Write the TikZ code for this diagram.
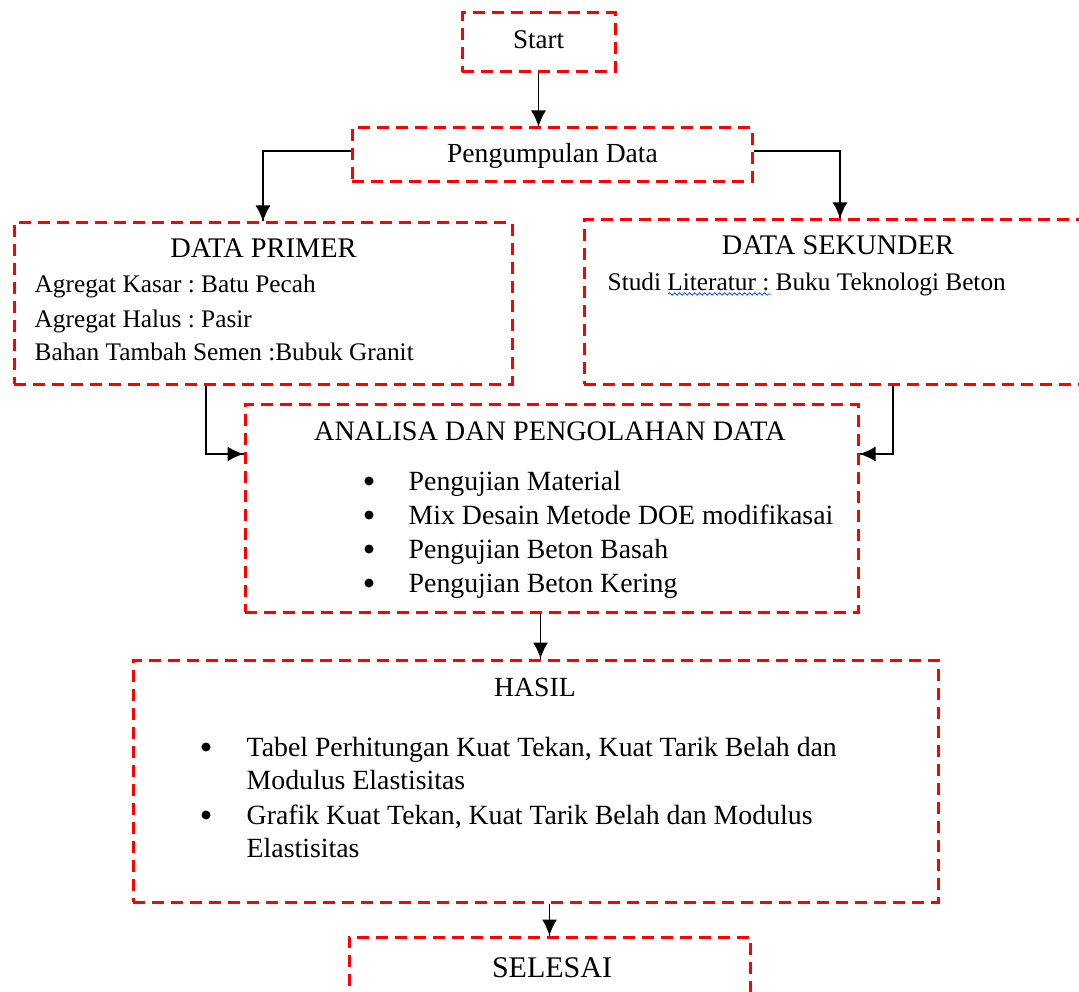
\documentclass[tikz,border=0pt]{standalone}
\usepackage{fontspec}
\setmainfont{Liberation Serif}
\usepackage{tikz}
\usetikzlibrary{arrows.meta}
\usetikzlibrary{decorations.markings}
\usetikzlibrary{decorations.pathmorphing}
\usetikzlibrary{positioning}
\frenchspacing
\tikzset{->/.style = {decoration={markings,
                                  mark=at position 1 with {\arrow{Latex[length=16pt, width=15pt]}}},
                      postaction={decorate}}}
\tikzset{box/.style = {draw=red, line width=3pt, dash pattern=on 12pt off 7pt, inner sep=0}}
\tikzset{dot/.style = {fill, circle, inner sep=0, minimum size=9}}
\tikzset{txt/.style = {font=\fontsize{#1}{34}\selectfont, inner sep=0, anchor=base west},
         txt/.default = 25.3}
\tikzset{ttl/.style = {font=\fontsize{#1}{34}\selectfont, inner sep=0, anchor=base},
         ttl/.default = 28.4}

\begin{document}
\begin{tikzpicture}[x=1pt, y=-1pt, line width=1.4pt]
      \useasboundingbox (0, 0) rectangle (1079, 992);
      % boxes
      \node [box, minimum width=153, minimum height=59] (start) at (538.5, 42.5) {};
      \node [box, minimum width=400, minimum height=54] (peng) at (552, 155) {};
      \node [box, minimum width=498, minimum height=161] (primer) at (263, 303.5) {};
      \node [box, minimum width=512, minimum height=164] (sekunder) at (840, 302) {};
      \node [box, minimum width=613, minimum height=208] (analisa) at (551.5, 508) {};
      \node [box, minimum width=805, minimum height=242] (hasil) at (535.5, 781) {};
      \node [box, minimum width=401, minimum height=73] (selesai) at (549.5, 973.5) {};
      % texts
      \node [ttl=27] (start-t) at (538.5, 49) {Start};
      \node [ttl=27.6] (peng-t) at (552.5, 163) {Pengumpulan Data};
      \node [ttl] (primer-t) at (263.5, 258) {DATA PRIMER};
      \node [txt] (primer-a) at (34, 293) {Agregat Kasar : Batu Pecah};
      \node [txt] (primer-b) at (34, 327) {Agregat Halus : Pasir};
      \node [txt] (primer-c) at (34, 360) {Bahan Tambah Semen :Bubuk Granit};
      \node [ttl] (sekunder-t) at (838, 255) {DATA SEKUNDER};
      \node [txt] (sekunder-a) at (607, 291) {Studi Literatur : Buku Teknologi Beton};
      \draw [blue!70!cyan, line width=0.8pt, decorate,
             decoration={snake, amplitude=1.2pt, segment length=5pt}] (668, 294) -- (771, 294);
      \node [ttl=28.2] (analisa-t) at (550, 440) {ANALISA DAN PENGOLAHAN DATA};
      \node [txt=27.8] (analisa-a) at (408, 490) {Pengujian Material};
      \node [txt=27.8] (analisa-b) at (408, 524) {Mix Desain Metode DOE modifikasai};
      \node [txt=27.8] (analisa-c) at (408, 558) {Pengujian Beton Basah};
      \node [txt=27.8] (analisa-d) at (408, 592) {Pengujian Beton Kering};
      \node [dot] (analisa-a-dot) at (369, 481) {};
      \node [dot] (analisa-b-dot) at (369, 515) {};
      \node [dot] (analisa-c-dot) at (369, 549) {};
      \node [dot] (analisa-d-dot) at (369, 583) {};
      \node [ttl=27.7] (hasil-t) at (535, 696) {HASIL};
      \node [txt=27.8] (hasil-a) at (246, 756) {Tabel Perhitungan Kuat Tekan, Kuat Tarik Belah dan};
      \node [txt=27.8] (hasil-b) at (246, 789) {Modulus Elastisitas};
      \node [txt=27.8] (hasil-c) at (246, 824) {Grafik Kuat Tekan, Kuat Tarik Belah dan Modulus};
      \node [txt=27.8] (hasil-d) at (246, 857) {Elastisitas};
      \node [dot] (hasil-a-dot) at (206, 747) {};
      \node [dot] (hasil-c-dot) at (206, 815) {};
      \node [ttl=30] (selesai-t) at (552, 977) {SELESAI};
      % connectors
      \draw [->] (start.south) -- (start.south |- peng.north);
      \draw [->] ([yshift=4pt]peng.west) -| (primer.north);
      \draw [->] ([yshift=4pt]peng.east) -| (sekunder.north);
      \draw [->] ([xshift=-57pt]primer.south) |- ([yshift=54pt]analisa.west);
      \draw [->] ([xshift=53pt]sekunder.south) |- ([yshift=54pt]analisa.east);
      \draw [->] ([xshift=-11pt]analisa.south) -- ([xshift=-11pt]analisa.south |- hasil.north);
      \draw [->] (hasil.south -| selesai.north) -- (selesai.north);
    \end{tikzpicture}
\end{document}
